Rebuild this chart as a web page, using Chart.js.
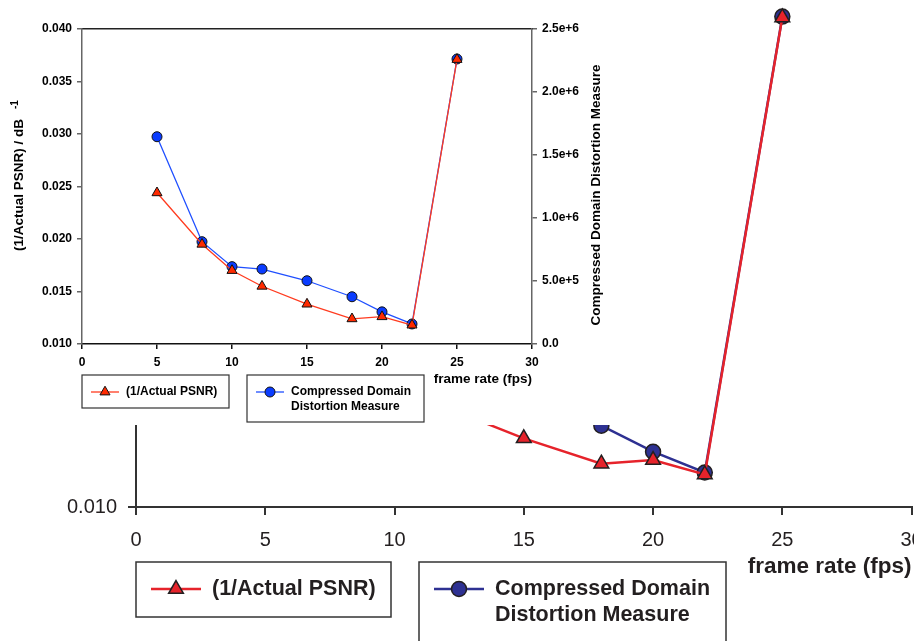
<!DOCTYPE html>
<html>
<head>
<meta charset="utf-8">
<title>Inverse PSNR and compressed domain distortion vs frame rate</title>
<script src="https://cdn.jsdelivr.net/npm/chart.js@4.4.1/dist/chart.umd.min.js"></script>
<style>
  html, body { margin: 0; padding: 0; background: #fff; }
  body { width: 914px; height: 641px; position: relative; overflow: hidden; }
  #big { position: absolute; left: 0; top: -58px; }
  #inset { position: absolute; left: 0; top: 0; background: #fff; }
</style>
</head>
<body>
<canvas id="big" width="1000" height="732"></canvas>
<canvas id="inset" width="620" height="425"></canvas>
<script>
// measured series
const frameRates = [5, 8, 10, 12, 15, 18, 20, 22, 25];
const psnrInv = [0.0244, 0.0195, 0.0170, 0.0155, 0.0138, 0.0124, 0.0126, 0.0118, 0.0371];
const distortion = [1.645e6, 0.812e6, 0.614e6, 0.595e6, 0.502e6, 0.375e6, 0.255e6, 0.159e6, 2.262e6];

// axis ticks
const frameTicks = [0, 5, 10, 15, 20, 25, 30];
const psnrTicks = [0.010, 0.015, 0.020, 0.025, 0.030, 0.035, 0.040];
const distTicks = [0, 5e5, 1e6, 1.5e6, 2e6, 2.5e6];

const psnrLabel = '(1/Actual PSNR)';
const distLabel = ['Compressed Domain', 'Distortion Measure'];

const FONT = '"Liberation Sans", Arial, Helvetica, sans-serif';

const pts = vals => frameRates.map((f, i) => ({ x: f, y: vals[i] }));
const setTicks = list => scale => { scale.ticks = list.map(v => ({ value: v })); };

// boxed legend entries: a line sample with the marker, then the label lines
const legendBoxes = {
  id: 'legendBoxes',
  afterDraw(chart, args, o) {
    const { ctx, chartArea } = chart;
    ctx.save();
    o.boxes.forEach(b => {
      const x = chartArea.left + b.dx, y = chartArea.bottom + b.dy;
      ctx.strokeStyle = o.border;
      ctx.lineWidth = o.borderWidth;
      ctx.strokeRect(x, y, b.w, b.h);

      const ds = chart.data.datasets[b.dataset];
      const ly = y + o.rowY;
      ctx.strokeStyle = ds.borderColor;
      ctx.lineWidth = ds.borderWidth;
      ctx.beginPath();
      ctx.moveTo(x + o.lineFrom, ly);
      ctx.lineTo(x + o.lineTo, ly);
      ctx.stroke();

      ctx.fillStyle = ds.pointBackgroundColor;
      ctx.strokeStyle = ds.pointBorderColor;
      ctx.lineWidth = ds.pointBorderWidth;
      Chart.helpers.drawPoint(ctx, {
        pointStyle: ds.pointStyle, radius: ds.pointRadius, rotation: 0, borderWidth: ds.pointBorderWidth
      }, x + (o.lineFrom + o.lineTo) / 2, ly);

      ctx.fillStyle = o.color;
      ctx.font = o.font;
      ctx.textAlign = 'left';
      ctx.textBaseline = 'middle';
      const lines = Array.isArray(b.text) ? b.text : [b.text];
      lines.forEach((t, i) => ctx.fillText(t, x + o.textX, ly + i * o.rowGap));
    });
    ctx.restore();
  }
};

// rotated titles of the inset (both read bottom to top)
const insetTitles = {
  id: 'insetTitles',
  afterDraw(chart) {
    const { ctx, chartArea: a } = chart;
    ctx.save();
    ctx.fillStyle = '#000';
    ctx.textBaseline = 'middle';
    ctx.textAlign = 'center';
    ctx.font = 'bold 13.5px ' + FONT;
    ctx.translate(a.left - 63, a.top + 156);
    ctx.rotate(-Math.PI / 2);
    const main = '(1/Actual PSNR) / dB';
    const w = ctx.measureText(main).width;
    ctx.fillText(main, 0, 0);
    ctx.font = 'bold 10px ' + FONT;
    ctx.textAlign = 'left';
    ctx.fillText('-1', w / 2 + 10, -4);
    ctx.restore();

    ctx.save();
    ctx.fillStyle = '#000';
    ctx.textBaseline = 'middle';
    ctx.textAlign = 'center';
    ctx.font = 'bold 13.5px ' + FONT;
    ctx.translate(a.right + 64, a.top + 166);
    ctx.rotate(-Math.PI / 2);
    ctx.fillText(distLabel.join(' '), 0, 0);
    ctx.restore();
  }
};

// enlarged copy of the chart in the background
const bigRed = '#e6232b', bigBlue = '#2e3192', edge = '#231f20';
new Chart(document.getElementById('big'), {
  type: 'line',
  data: {
    datasets: [{
      label: psnrLabel, data: pts(psnrInv), yAxisID: 'y',
      borderColor: bigRed, borderWidth: 2.5, tension: 0,
      pointStyle: 'triangle', pointRadius: 8.5,
      pointBackgroundColor: bigRed, pointBorderColor: edge, pointBorderWidth: 1.5
    }, {
      label: distLabel.join(' '), data: pts(distortion), yAxisID: 'y1',
      borderColor: bigBlue, borderWidth: 2.5, tension: 0,
      pointStyle: 'circle', pointRadius: 7.5,
      pointBackgroundColor: bigBlue, pointBorderColor: edge, pointBorderWidth: 1.5
    }]
  },
  options: {
    responsive: false,
    animation: false,
    layout: { padding: { top: 10, right: 88.4, bottom: 92, left: 0 } },
    plugins: {
      legend: { display: false },
      tooltip: { enabled: false },
      legendBoxes: {
        border: '#333', borderWidth: 1.5, color: edge,
        font: 'bold 21.5px ' + FONT,
        rowY: 27, rowGap: 26, lineFrom: 15, lineTo: 65, textX: 76,
        boxes: [
          { dataset: 0, dx: 0, dy: 55, w: 255, h: 55, text: psnrLabel },
          { dataset: 1, dx: 283, dy: 55, w: 307, h: 110, text: distLabel }
        ]
      }
    },
    scales: {
      x: {
        type: 'linear', min: 0, max: 30,
        afterBuildTicks: setTicks(frameTicks),
        afterFit: s => { s.height = 75; },
        grid: { drawOnChartArea: false, tickLength: 8, color: '#333', lineWidth: 2 },
        border: { color: '#333', width: 2 },
        ticks: { padding: 13, color: edge, font: { family: FONT, size: 20 } },
        title: {
          display: true, align: 'end', text: 'frame rate (fps)', color: edge,
          padding: { top: 0, bottom: 2 },
          font: { family: FONT, size: 22.5, weight: 'bold' }
        }
      },
      y: {
        min: 0.010, max: 0.040,
        afterBuildTicks: setTicks(psnrTicks),
        afterFit: s => { s.width = 136; },
        grid: { drawOnChartArea: false, tickLength: 8, color: '#333', lineWidth: 2 },
        border: { color: '#333', width: 2 },
        ticks: { padding: 11, color: edge, font: { family: FONT, size: 20 }, callback: v => v.toFixed(3) }
      },
      y1: {
        display: false, position: 'right', min: 0, max: 2.5e6
      }
    }
  },
  plugins: [legendBoxes]
});

// the chart itself, drawn over the enlarged copy
const red = '#ff3b1f', redFill = '#ff2a00', blue = '#1f4fff', blueFill = '#0a3cff';
new Chart(document.getElementById('inset'), {
  type: 'line',
  data: {
    datasets: [{
      label: psnrLabel, data: pts(psnrInv), yAxisID: 'y',
      borderColor: red, borderWidth: 1.3, tension: 0,
      pointStyle: 'triangle', pointRadius: 5.8,
      pointBackgroundColor: redFill, pointBorderColor: '#111', pointBorderWidth: 1
    }, {
      label: distLabel.join(' '), data: pts(distortion), yAxisID: 'y1',
      borderColor: blue, borderWidth: 1.3, tension: 0,
      pointStyle: 'circle', pointRadius: 5,
      pointBackgroundColor: blueFill, pointBorderColor: '#111', pointBorderWidth: 1
    }]
  },
  options: {
    responsive: false,
    animation: false,
    layout: { padding: { top: 29, right: 0, bottom: 38, left: 0 } },
    plugins: {
      legend: { display: false },
      tooltip: { enabled: false },
      legendBoxes: {
        border: '#333', borderWidth: 1.2, color: '#000',
        font: 'bold 12px ' + FONT,
        rowY: 17, rowGap: 15, lineFrom: 9, lineTo: 37, textX: 44,
        boxes: [
          { dataset: 0, dx: 0, dy: 31, w: 147, h: 33, text: psnrLabel },
          { dataset: 1, dx: 165, dy: 31, w: 177, h: 47, text: distLabel }
        ]
      }
    },
    scales: {
      x: {
        type: 'linear', min: 0, max: 30,
        afterBuildTicks: setTicks(frameTicks),
        afterFit: s => { s.height = 43; },
        grid: { drawOnChartArea: false, tickLength: 5, color: '#111', lineWidth: 1.5 },
        border: { color: '#111', width: 1.5 },
        ticks: { padding: 6, color: '#000', font: { family: FONT, size: 12, weight: 'bold' } },
        title: {
          display: true, align: 'end', text: 'frame rate (fps)', color: '#000',
          padding: { top: 0, bottom: 0 },
          font: { family: FONT, size: 13.5, weight: 'bold' }
        }
      },
      xTop: {
        type: 'linear', position: 'top', min: 0, max: 30,
        afterFit: s => { s.height = 0; },
        grid: { display: false, drawTicks: false },
        border: { color: '#222', width: 1.5 },
        ticks: { display: false }
      },
      y: {
        min: 0.010, max: 0.040,
        afterBuildTicks: setTicks(psnrTicks),
        afterFit: s => { s.width = 82; },
        grid: { drawOnChartArea: false, tickLength: 5, color: '#666', lineWidth: 1.5 },
        border: { color: '#666', width: 1.5 },
        ticks: { padding: 5, color: '#000', font: { family: FONT, size: 12, weight: 'bold' }, callback: v => v.toFixed(3) }
      },
      y1: {
        position: 'right', min: 0, max: 2.5e6,
        afterBuildTicks: setTicks(distTicks),
        afterFit: s => { s.width = 88; },
        grid: { drawOnChartArea: false, tickLength: 5, color: '#666', lineWidth: 1.5 },
        border: { color: '#666', width: 1.5 },
        ticks: {
          padding: 5, color: '#000', font: { family: FONT, size: 12, weight: 'bold' },
          callback: v => v === 0 ? '0.0' : v.toExponential(1)
        }
      }
    }
  },
  plugins: [legendBoxes, insetTitles]
});
</script>
</body>
</html>
